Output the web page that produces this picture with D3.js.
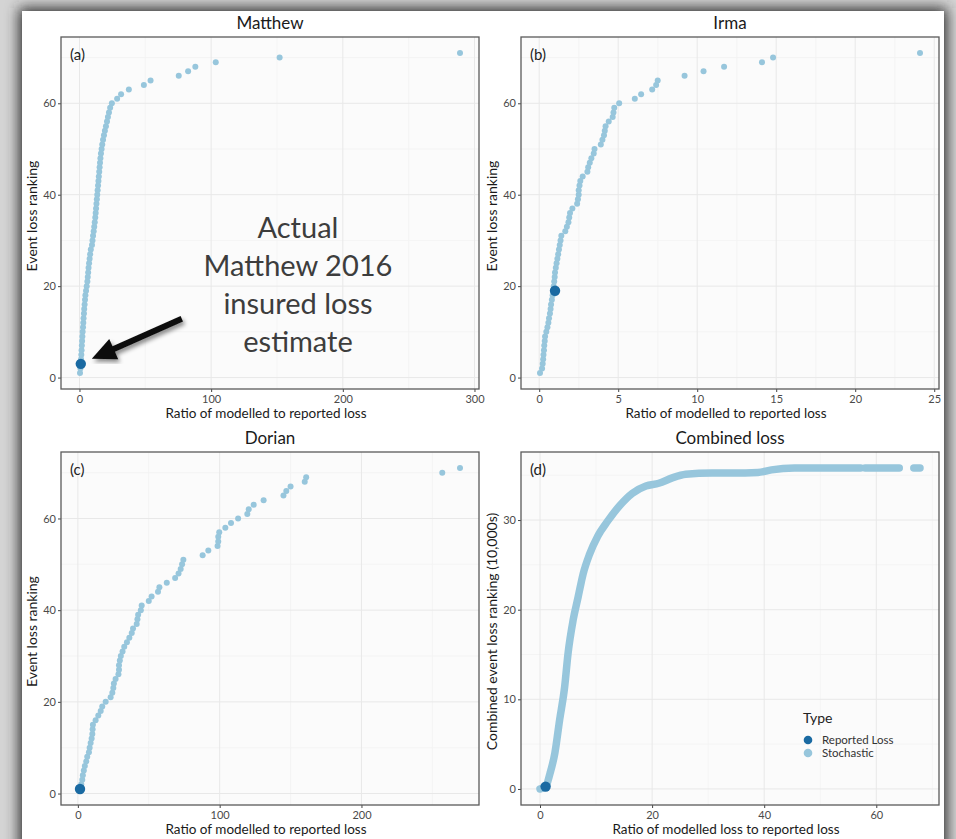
<!DOCTYPE html>
<html>
<head>
<meta charset="utf-8">
<style>
  body { margin: 0; background: #c8c8c8; }
  svg { display: block; font-family: Lato, "Liberation Sans", sans-serif; }
</style>
</head>
<body>
<svg width="956" height="839"></svg>
<script src="https://d3js.org/d3.v7.min.js"></script>
<script>

// ---- data ----
// event loss ranking is the position in each list (1..71)
var matthewRatio = [0.4, 0.7, 1.0, 1.2, 1.4, 1.6, 1.8, 2.0, 2.2, 2.4,
  2.7, 2.9, 3.1, 3.4, 3.6, 3.9, 4.2, 4.5, 5.0, 5.5,
  6.0, 6.3, 6.6, 6.9, 7.3, 7.7, 8.1, 8.6, 9.5, 9.9,
  10.3, 10.8, 11.2, 11.6, 12.0, 12.3, 12.6, 12.9, 13.2, 13.5,
  13.8, 14.1, 14.4, 14.7, 15.0, 15.3, 15.6, 15.9, 16.3, 16.8,
  17.3, 17.9, 18.6, 19.3, 20.1, 20.9, 21.6, 22.4, 23.3, 24.6,
  28.6, 31.6, 37.5, 48.9, 54, 75.4, 82.5, 88, 103.5, 152, 289];
var matthewReportedRank = 3;

var irmaRatio = [0.05, 0.18, 0.22, 0.25, 0.27, 0.3, 0.32, 0.35, 0.37, 0.45,
  0.52, 0.58, 0.62, 0.68, 0.72, 0.75, 0.8, 0.85, 1.0, 0.92,
  0.95, 0.98, 1.0, 1.05, 1.1, 1.15, 1.2, 1.25, 1.3, 1.35,
  1.4, 1.65, 1.75, 1.85, 1.9, 1.95, 2.1, 2.4, 2.45, 2.5,
  2.5, 2.55, 2.6, 2.75, 3.05, 3.1, 3.2, 3.3, 3.45, 3.5,
  3.9, 4.0, 4.1, 4.15, 4.2, 4.4, 4.65, 4.7, 4.75, 5.06,
  6.05, 6.45, 7.15, 7.4, 7.5, 9.2, 10.4, 11.7, 14.1, 14.8, 24.1];
var irmaReportedRank = 19;

var dorianRatio = [1.5, 2.4, 3.1, 3.5, 4.2, 4.9, 5.9, 6.6, 7.8, 8.3,
  9.0, 9.7, 10.2, 10.4, 10.6, 12.5, 14.4, 16.1, 17.2, 19.6,
  23.1, 24.3, 25, 25.4, 26.6, 28.6, 29, 29, 29.6, 30.3,
  31.5, 32.7, 34.6, 36.3, 38, 38.9, 41.5, 42, 42.5, 44.4,
  45, 50, 52, 56.5, 57.5, 62.7, 68.6, 71, 72.5, 73.5,
  74.4, 88, 92, 98.5, 99, 99, 99.7, 104, 108, 113,
  119.5, 120.5, 124, 131, 145, 147, 150, 160, 161, 257, 269.5];
var dorianReportedRank = 1;

// combined curve (ranking in 10,000s)
var combinedRatio = [0, 1.0, 1.77, 2.65, 3.5, 4.4, 5.0, 5.9, 6.8, 7.7, 8.85, 10.3, 12.1, 14.2,
  16.5, 18.9, 21.2, 23.6, 26.0, 30.7, 36.6, 38.9, 41.3, 45.4, 51.3, 57.2];
var combinedRank = [0, 0.26, 1.7, 4.0, 7.7, 11.4, 15.1, 18.8, 21.4, 24.0, 26.2, 28.2, 29.9, 31.6,
  33.0, 33.8, 34.1, 34.7, 35.1, 35.25, 35.25, 35.3, 35.6, 35.8, 35.8, 35.8];
var combinedTailRatio = [[58.0, 64.1], [66.7, 67.8]];
var combinedTailRank = 35.8;
var combinedReported = [1.0, 0.26];

var legendTitle = "Type";
var legendLabels = ["Reported Loss", "Stochastic"];

var colStoch = "#97c6dc", colRep = "#1a6aa2";

var svg = d3.select("svg");

// frame with shadow
var defs = svg.append("defs");
defs.append("filter").attr("id", "blur").attr("x", "-10%").attr("y", "-10%")
    .attr("width", "120%").attr("height", "120%")
  .append("feGaussianBlur").attr("stdDeviation", 7);
defs.append("filter").attr("id", "ashadow")
  .append("feDropShadow").attr("dx", 2).attr("dy", 3).attr("stdDeviation", 2)
    .attr("flood-color", "#000").attr("flood-opacity", 0.45);

svg.append("rect").attr("width", 956).attr("height", 839).attr("fill", "#d4d4d4");
svg.append("rect").attr("x", 19).attr("y", 8).attr("width", 928).attr("height", 860)
    .attr("fill", "#2e2e2e").attr("filter", "url(#blur)");
svg.append("rect").attr("x", 22).attr("y", 11).attr("width", 922).attr("height", 840)
    .attr("fill", "#fff");

function panel(o) {
  var g = svg.append("g");
  var x = d3.scaleLinear().domain(o.xd).range([o.l, o.r]);
  var y = d3.scaleLinear().domain(o.yd).range([o.b, o.t]);

  g.append("rect").attr("x", o.l).attr("y", o.t).attr("width", o.r - o.l)
      .attr("height", o.b - o.t).attr("fill", "#fbfbfb");

  // minor grid
  o.xminor.forEach(function(v) {
    g.append("line").attr("x1", x(v)).attr("x2", x(v)).attr("y1", o.t).attr("y2", o.b)
        .attr("stroke", "#f2f2f2").attr("stroke-width", 0.8);
  });
  o.yminor.forEach(function(v) {
    g.append("line").attr("y1", y(v)).attr("y2", y(v)).attr("x1", o.l).attr("x2", o.r)
        .attr("stroke", "#f2f2f2").attr("stroke-width", 0.8);
  });
  // major grid
  o.xt.forEach(function(v) {
    g.append("line").attr("x1", x(v)).attr("x2", x(v)).attr("y1", o.t).attr("y2", o.b)
        .attr("stroke", "#e8e8e8").attr("stroke-width", 1);
  });
  o.yt.forEach(function(v) {
    g.append("line").attr("y1", y(v)).attr("y2", y(v)).attr("x1", o.l).attr("x2", o.r)
        .attr("stroke", "#e8e8e8").attr("stroke-width", 1);
  });

  // axes
  var xa = g.append("g").attr("transform", "translate(0," + o.b + ")")
      .call(d3.axisBottom(x).tickValues(o.xt).tickSize(3).tickPadding(3));
  var ya = g.append("g").attr("transform", "translate(" + o.l + ",0)")
      .call(d3.axisLeft(y).tickValues(o.yt).tickSize(3).tickPadding(2));
  [xa, ya].forEach(function(a) {
    a.select(".domain").remove();
    a.selectAll("line").attr("stroke", "#444");
    a.selectAll("text").attr("fill", "#4a4a4a").style("font-size", "11px")
        .style("font-family", "Lato, sans-serif");
  });

  g.append("rect").attr("x", o.l).attr("y", o.t).attr("width", o.r - o.l)
      .attr("height", o.b - o.t).attr("fill", "none").attr("stroke", "#5a5a5a")
      .attr("stroke-width", 1.3);

  g.append("text").attr("x", (o.l + o.r) / 2).attr("y", o.t - 8)
      .attr("text-anchor", "middle").attr("fill", "#1a1a1a").style("font-size", "17px")
      .text(o.title);
  g.append("text").attr("x", o.l + 9).attr("y", o.t + 23)
      .attr("fill", "#222").style("font-size", "15px").text(o.tag);
  g.append("text").attr("x", (o.l + o.r) / 2 - 4).attr("y", o.b + 29)
      .attr("text-anchor", "middle").attr("fill", "#1a1a1a").style("font-size", "13.5px")
      .text(o.xlab);
  g.append("text").attr("transform", "translate(" + (o.l - 24) + "," + ((o.t + o.b) / 2 + 3) + ") rotate(-90)")
      .attr("text-anchor", "middle").attr("fill", "#1a1a1a").style("font-size", "14px")
      .text(o.ylab);

  return {g: g, x: x, y: y};
}

function expand(lo, hi) {
  var d = (hi - lo) * 0.05;
  return [lo - d, hi + d];
}

function rankPanel(o, ratios, repRank) {
  var p = panel(Object.assign(o, {
    xd: expand(d3.min(ratios), d3.max(ratios)),
    yd: expand(1, ratios.length),
    yt: [0, 20, 40, 60], yminor: [10, 30, 50, 70],
    ylab: "Event loss ranking"
  }));
  var pts = ratios.map(function(v, i) { return {ratio: v, rank: i + 1}; });
  p.g.selectAll(".s").data(pts.filter(function(d) { return d.rank !== repRank; }))
    .enter().append("circle")
      .attr("cx", function(d) { return p.x(d.ratio); })
      .attr("cy", function(d) { return p.y(d.rank); })
      .attr("r", 3).attr("fill", colStoch);
  var rep = pts[repRank - 1];
  p.g.append("circle").attr("cx", p.x(rep.ratio)).attr("cy", p.y(rep.rank))
      .attr("r", 5.2).attr("fill", colRep);
  return {p: p, rep: rep};
}

var a = rankPanel({l: 61, r: 479, t: 37, b: 389, title: "Matthew", tag: "(a)",
  xt: [0, 100, 200, 300], xminor: [50, 150, 250],
  xlab: "Ratio of modelled to reported loss"}, matthewRatio, matthewReportedRank);

rankPanel({l: 521, r: 939, t: 37, b: 389, title: "Irma", tag: "(b)",
  xt: [0, 5, 10, 15, 20, 25], xminor: [2.5, 7.5, 12.5, 17.5, 22.5],
  xlab: "Ratio of modelled to reported loss"}, irmaRatio, irmaReportedRank);

rankPanel({l: 61, r: 479, t: 452, b: 805, title: "Dorian", tag: "(c)",
  xt: [0, 100, 200], xminor: [50, 150, 250],
  xlab: "Ratio of modelled to reported loss"}, dorianRatio, dorianReportedRank);

// combined panel
var allX = combinedRatio.concat(d3.merge(combinedTailRatio));
var d = panel({l: 521, r: 939, t: 452, b: 805, title: "Combined loss", tag: "(d)",
  xd: expand(d3.min(allX), d3.max(allX)),
  yd: expand(d3.min(combinedRank), combinedTailRank),
  xt: [0, 20, 40, 60], xminor: [10, 30, 50, 70],
  yt: [0, 10, 20, 30], yminor: [5, 15, 25, 35],
  xlab: "Ratio of modelled loss to reported loss",
  ylab: "Combined event loss ranking (10,000s)"});

var curve = d3.line().curve(d3.curveMonotoneX)
    .x(function(p) { return d.x(p[0]); }).y(function(p) { return d.y(p[1]); });
d.g.append("path").datum(d3.zip(combinedRatio, combinedRank))
    .attr("d", curve).attr("fill", "none").attr("stroke", colStoch)
    .attr("stroke-width", 7.5).attr("stroke-linecap", "round").attr("stroke-linejoin", "round");
combinedTailRatio.forEach(function(seg) {
  d.g.append("line").attr("x1", d.x(seg[0])).attr("x2", d.x(seg[1]))
      .attr("y1", d.y(combinedTailRank)).attr("y2", d.y(combinedTailRank))
      .attr("stroke", colStoch).attr("stroke-width", 7.5).attr("stroke-linecap", "round");
});
d.g.append("circle").attr("cx", d.x(combinedReported[0])).attr("cy", d.y(combinedReported[1]))
    .attr("r", 5.2).attr("fill", colRep);

// legend
var lg = d.g.append("g").attr("transform", "translate(803,723)");
lg.append("text").attr("fill", "#222").style("font-size", "14px").text(legendTitle);
legendLabels.forEach(function(t, i) {
  lg.append("circle").attr("cx", 5).attr("cy", 17 + i * 13).attr("r", 4.3)
      .attr("fill", i === 0 ? colRep : colStoch);
  lg.append("text").attr("x", 19).attr("y", 21 + i * 13).attr("fill", "#333")
      .style("font-size", "11.5px").text(t);
});

// annotation in panel (a)
var ann = a.p.g.append("g");
["Actual", "Matthew 2016", "insured loss", "estimate"].forEach(function(t, i) {
  ann.append("text").attr("x", 298).attr("y", 238 + i * 38)
      .attr("text-anchor", "middle").attr("fill", "#3d3d3d")
      .style("font-size", "29px").text(t);
});
var tipX = a.p.x(a.rep.ratio) + 11, tipY = a.p.y(a.rep.rank) - 5;
var sx = tipX + 90, sy = tipY - 40;
var dx = tipX - sx, dy = tipY - sy, len = Math.sqrt(dx * dx + dy * dy);
var ux = dx / len, uy = dy / len, nx = -uy, ny = ux;
var hl = 24, hw = 11, sw = 3;
var bx = tipX - ux * hl, by = tipY - uy * hl;
var arrow = [
  [sx + nx * sw, sy + ny * sw], [bx + nx * sw, by + ny * sw], [bx + nx * hw, by + ny * hw],
  [tipX, tipY],
  [bx - nx * hw, by - ny * hw], [bx - nx * sw, by - ny * sw], [sx - nx * sw, sy - ny * sw]
];
ann.append("path").attr("d", "M" + arrow.join("L") + "Z")
    .attr("fill", "#111").attr("filter", "url(#ashadow)");

</script>
</body>
</html>
